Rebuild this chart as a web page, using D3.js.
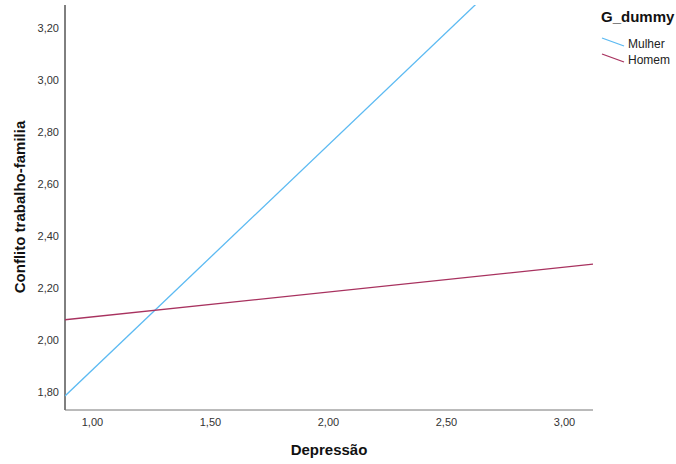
<!DOCTYPE html>
<html><head><meta charset="utf-8">
<script src="https://cdn.jsdelivr.net/npm/d3@7"></script>
<style>body{margin:0;background:#fff}svg{display:block}</style>
</head><body>
<script>
const groups = ["Mulher", "Homem"];
const colors = ["#5cbaf2", "#a8325f"];
const xRange = [0.886, 3.123];
const mulherY = [1.785, 3.72];
const homemY = [2.078, 2.292];
const xTicks = [1.0, 1.5, 2.0, 2.5, 3.0];
const yTicks = [1.8, 2.0, 2.2, 2.4, 2.6, 2.8, 3.0, 3.2];
const xDomain = [0.886, 3.123];
const yDomain = [1.731, 3.288];

const W = 676, H = 464;
const m = {l: 65, r: 593, t: 5, b: 410};
const svg = d3.select("body").append("svg").attr("width", W).attr("height", H);
const x = d3.scaleLinear().domain(xDomain).range([m.l, m.r]);
const y = d3.scaleLinear().domain(yDomain).range([m.b, m.t]);
const fmt = d => d.toFixed(2).replace(".", ",");

svg.append("defs").append("clipPath").attr("id", "clip")
  .append("rect").attr("x", m.l).attr("y", m.t).attr("width", m.r - m.l).attr("height", m.b - m.t);

const font = "Arial, 'Liberation Sans', sans-serif";

// y axis
const ya = svg.append("g").attr("transform", `translate(${m.l},0)`)
  .call(d3.axisLeft(y).tickValues(yTicks).tickFormat(fmt).tickSize(0).tickPadding(6));
ya.select(".domain").attr("stroke", "#000").attr("d", `M0,${m.t}V${m.b}`);
ya.selectAll("text").attr("font-family", font).attr("font-size", 11).attr("fill", "#333");

// x axis
const xa = svg.append("g").attr("transform", `translate(0,${m.b})`)
  .call(d3.axisBottom(x).tickValues(xTicks).tickFormat(fmt).tickSize(0).tickPadding(8));
xa.select(".domain").attr("stroke", "#777").attr("d", `M${m.l},0H${m.r}`);
xa.selectAll("text").attr("font-family", font).attr("font-size", 11).attr("fill", "#333");

// lines
const series = [mulherY, homemY];
const line = d3.line().x(d => x(d[0])).y(d => y(d[1]));
series.forEach((s, i) => {
  svg.append("path").attr("clip-path", "url(#clip)")
    .attr("d", line([[xRange[0], s[0]], [xRange[1], s[1]]]))
    .attr("stroke", colors[i]).attr("stroke-width", 1.3).attr("fill", "none");
});

// axis titles
svg.append("text").attr("x", 329).attr("y", 455).attr("text-anchor", "middle")
  .attr("font-family", font).attr("font-size", 15).attr("font-weight", "bold").attr("fill", "#111")
  .text("Depressão");
svg.append("text").attr("transform", "translate(25,207) rotate(-90)").attr("text-anchor", "middle")
  .attr("font-family", font).attr("font-size", 15).attr("font-weight", "bold").attr("fill", "#111")
  .text("Conflito trabalho-familia");

// legend
svg.append("text").attr("x", 601).attr("y", 22)
  .attr("font-family", font).attr("font-size", 15).attr("font-weight", "bold").attr("fill", "#111")
  .text("G_dummy");
groups.forEach((g, i) => {
  const yy = 38 + i * 16;
  svg.append("line").attr("x1", 602).attr("y1", yy).attr("x2", 624).attr("y2", yy + 8)
    .attr("stroke", colors[i]).attr("stroke-width", 1.3);
  svg.append("text").attr("x", 628).attr("y", yy + 10)
    .attr("font-family", font).attr("font-size", 12).attr("fill", "#222").text(g);
});
</script>
</body></html>
